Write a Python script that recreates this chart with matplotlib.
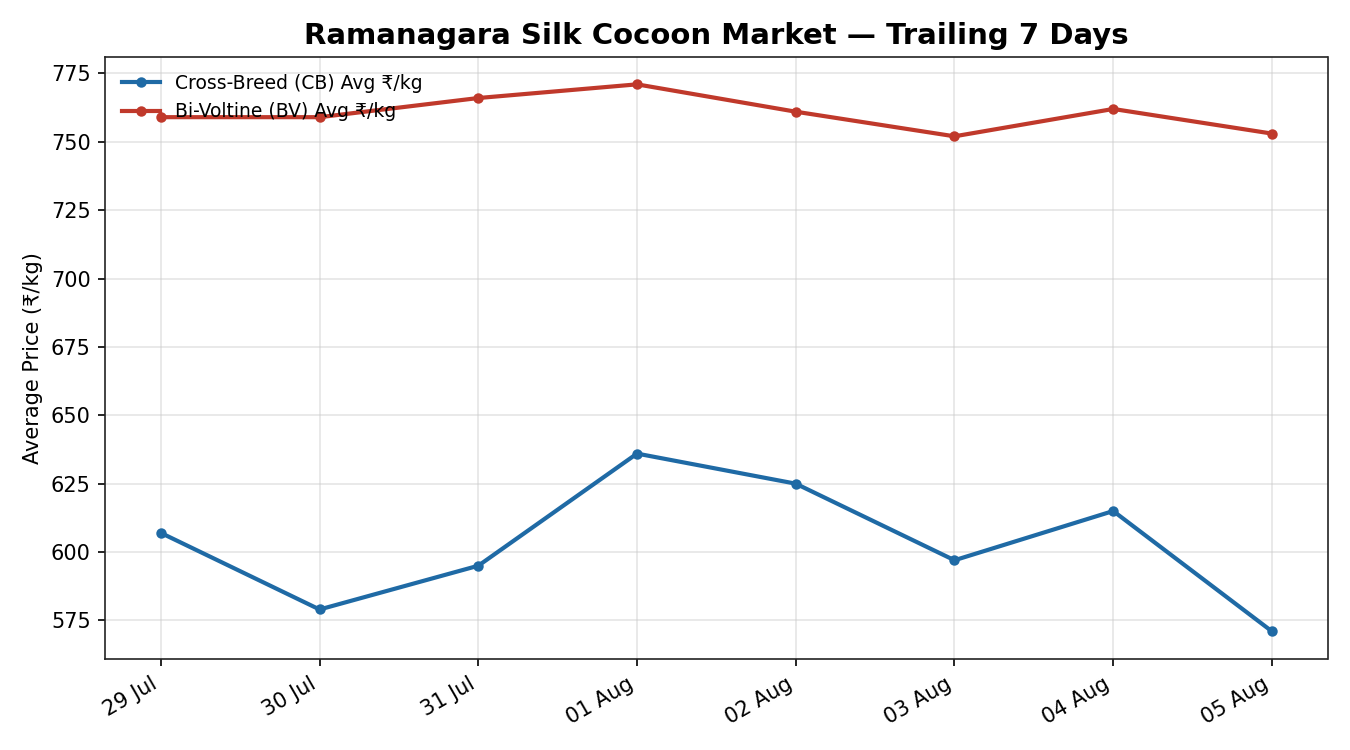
import numpy as np
import matplotlib
matplotlib.use("Agg")
import matplotlib.pyplot as plt
import matplotlib.dates as mdates
from datetime import datetime

# daily averages
dates = ["2024-07-29", "2024-07-30", "2024-07-31", "2024-08-01",
         "2024-08-02", "2024-08-03", "2024-08-04", "2024-08-05"]
cb_avg = [607, 579, 595, 636, 625, 597, 615, 571]
bv_avg = [759, 759, 766, 771, 761, 752, 762, 753]

days = [datetime.strptime(d, "%Y-%m-%d") for d in dates]

fig, ax = plt.subplots(figsize=(9, 5), dpi=150)

ax.plot(days, cb_avg, marker="o", markersize=4, linewidth=2,
        color="#1f6aa5", label="Cross-Breed (CB) Avg ₹/kg")
ax.plot(days, bv_avg, marker="o", markersize=4, linewidth=2,
        color="#c0392b", label="Bi-Voltine (BV) Avg ₹/kg")

ax.set_title("Ramanagara Silk Cocoon Market — Trailing 7 Days",
             fontsize=14, fontweight="bold")
ax.set_ylabel("Average Price (₹/kg)", fontsize=10)

ax.xaxis.set_major_locator(mdates.DayLocator())
ax.xaxis.set_major_formatter(mdates.DateFormatter("%d %b"))
ax.tick_params(labelsize=10)
ax.grid(True, color="#cccccc", alpha=0.5, linewidth=0.8)
for s in ax.spines.values():
    s.set_color("#222222")

ax.legend(loc="upper left", frameon=False, fontsize=9)
fig.autofmt_xdate()
fig.tight_layout()
fig.savefig("out.png")
